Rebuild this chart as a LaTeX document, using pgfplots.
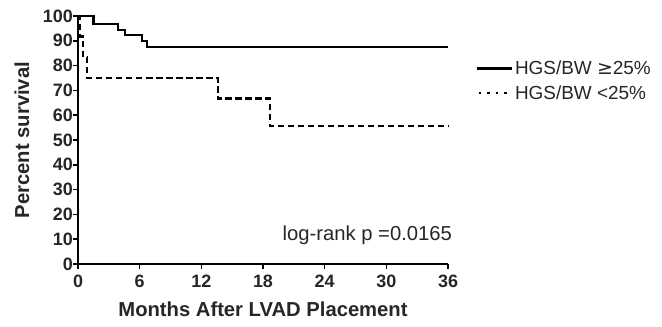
\documentclass[border=0pt]{standalone}
\usepackage{fontspec}
\setmainfont{Liberation Sans}
\newfontfamily\symfont{DejaVu Sans}
\usepackage{pgfplots}
\pgfplotsset{compat=1.18}
\begin{document}
\begin{tikzpicture}
\useasboundingbox (-78bp,-63bp) rectangle (584bp,264bp);
\begin{axis}[
  at={(0,0)}, anchor=south west,
  scale only axis, width=370bp, height=248bp,
  xmin=0, xmax=36, ymin=0, ymax=100,
  axis x line*=bottom, axis y line*=left,
  axis line style={line width=1.8pt, -},
  xtick={0,6,...,36}, ytick={0,10,...,100},
  tick style={line width=1.6pt, black},
  tick align=outside, major tick length=5bp,
  /pgf/number format/assume math mode=true,
  ticklabel style={font=\fontsize{18}{18}\selectfont\bfseries, text=black!85},
  xticklabel style={yshift=-2bp},
  yticklabel style={xshift=1bp, inner sep=1bp},
  xlabel={Months After LVAD Placement},
  ylabel={Percent survival},
  label style={font=\fontsize{20.3}{20.3}\selectfont\bfseries, text=black!85},
  xlabel style={yshift=-8bp},
  ylabel style={yshift=9bp},
  clip=false,
  legend style={draw=none, fill=none, at={(1.065,0.738)}, anchor=west,
    font=\fontsize{19}{19}\selectfont, text=black!85, row sep=5bp,
    /tikz/every even column/.append style={column sep=4bp}},
  legend cell align=left,
]
\addplot[const plot, black, line width=2.2pt] coordinates {
  (0,100) (1.5,96.7) (3.9,94.4) (4.6,92.2) (6.2,90.0) (6.7,87.6) (36,87.6)
};
\addlegendimage{legend image code/.code={\draw[black, line width=2.8pt] (0bp,0bp) -- (35bp,0bp);}}
\addplot[const plot, black, line width=2.2pt, dash pattern=on 6.5bp off 3.5bp] coordinates {
  (0,100) (0.2,91.7) (0.5,83.3) (0.9,75.0) (13.6,66.7) (18.7,55.6) (36,55.6)
};
\addlegendimage{legend image code/.code={\draw[black, line width=1.8pt, dash pattern=on 2.5bp off 6bp] (2bp,0bp) -- (35bp,0bp);}}
\legend{,HGS/BW {\symfont ≥}25\%,,HGS/BW <25\%}
\node[anchor=east, font=\fontsize{20.3}{20.3}\selectfont, text=black!85, inner sep=0pt] at (axis cs:36.4,11.7) {log-rank p =0.0165};
\end{axis}
\end{tikzpicture}
\end{document}
